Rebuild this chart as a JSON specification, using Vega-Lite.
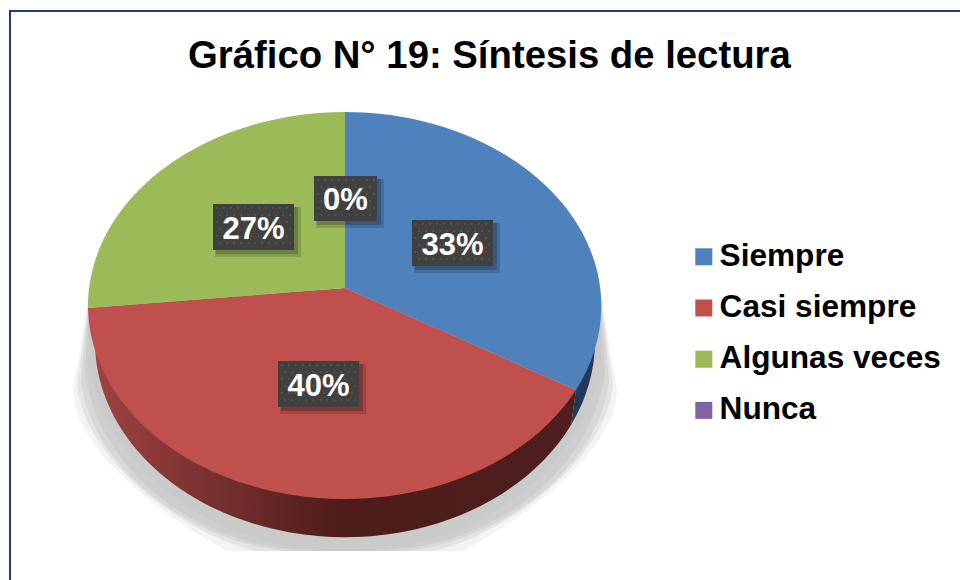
{
  "$schema": "https://vega.github.io/schema/vega-lite/v6.json",
  "width": 690,
  "height": 580,
  "autosize": {"type": "none"},
  "padding": {"left": 0, "top": 0, "right": 270, "bottom": 0},
  "background": "white",
  "view": {"stroke": null},
  "title": {
    "text": "Gráfico N° 19: Síntesis de lectura",
    "orient": "top",
    "anchor": "start",
    "frame": "group",
    "dx": 188,
    "offset": -106,
    "baseline": "alphabetic",
    "font": "Liberation Sans",
    "fontWeight": "bold",
    "fontSize": 38.3,
    "color": "#000000"
  },
  "data": {
    "values": [
      {"categoria": "Siempre", "valor": 0.33},
      {"categoria": "Casi siempre", "valor": 0.40},
      {"categoria": "Algunas veces", "valor": 0.27},
      {"categoria": "Nunca", "valor": 0.0}
    ]
  },
  "resolve": {"scale": {"shape": "independent"}},
  "layer": [
    {
      "data": {"values": [{"parte": "marco"}]},
      "mark": {"type": "point", "size": 4, "filled": false, "opacity": 1, "strokeWidth": 2, "stroke": "#1d3a80", "shape": "M-335,290L-335,-279L615,-279"},
      "encoding": {}
    },
    {
      "data": {"values": [{"parte": "sombra"}]},
      "mark": {"type": "point", "size": 4, "filled": true, "opacity": 0.2, "color": "#c4c4c4", "shape": "M-255,0L-272,100C-270,160 -185,225 -118,261L118,261C185,225 270,160 272,100L255,0Z"},
      "encoding": {}
    },
    {
      "data": {"values": [{"parte": "sombra"}]},
      "mark": {"type": "point", "size": 4, "filled": true, "opacity": 0.3, "color": "#c4c4c4", "shape": "M-255,0L-268,95C-262,165 -170,240 -90,261L90,261C170,240 262,165 268,95L255,0Z"},
      "encoding": {}
    },
    {
      "data": {"values": [{"parte": "sombra"}]},
      "mark": {"type": "point", "size": 4, "filled": true, "opacity": 0.4, "color": "#c4c4c4", "shape": "M-255,0L-264,90C-255,175 -160,250 -60,261L60,261C160,250 255,175 264,90L255,0Z"},
      "encoding": {}
    },
    {
      "data": {"values": [{"parte": "sombra"}]},
      "mark": {"type": "point", "size": 4, "filled": true, "opacity": 0.5, "color": "#c4c4c4", "shape": "M-255,0L-260,80C-248,180 -150,258 -30,261L30,261C150,258 248,180 260,80L255,0Z"},
      "encoding": {}
    },
    {
      "data": {"values": [{"parte": "sombra"}]},
      "mark": {"type": "point", "size": 4, "filled": true, "opacity": 0.6, "color": "#c8c8c8", "shape": "M-255,0L-256,70C-245,170 -140,261 0,261C140,261 245,170 256,70L255,0Z"},
      "encoding": {}
    },
    {
      "data": {"values": [{"parte": "lado azul"}]},
      "mark": {"type": "point", "size": 4, "filled": true, "opacity": 1, "color": "#1f3a5c", "shape": "M231,100L226,135A250,196 0 0 0 250,51L231,60Z"},
      "encoding": {}
    },
    {
      "data": {"values": [{"parte": "lado rojo"}]},
      "mark": {
        "type": "point", "size": 4, "filled": true, "opacity": 1,
        "color": {
          "gradient": "linear", "x1": 0, "y1": 0.5, "x2": 1, "y2": 0.5,
          "stops": [
            {"offset": 0, "color": "#a04442"},
            {"offset": 0.52, "color": "#4d1c1b"},
            {"offset": 1, "color": "#4e1f1e"}
          ]
        },
        "shape": "M231,100L226,135A250,196 0 0 1 -250,51L-257,18Z"
      },
      "encoding": {}
    },
    {
      "mark": {"type": "point", "size": 4, "filled": true, "opacity": 1},
      "encoding": {
        "fill": {
          "field": "categoria", "type": "nominal",
          "scale": {
            "domain": ["Nunca", "Siempre", "Casi siempre", "Algunas veces"],
            "range": ["#8064a2", "#4f81bd", "#c0504d", "#9bbb59"]
          },
          "legend": null
        },
        "shape": {
          "field": "categoria", "type": "nominal",
          "scale": {
            "domain": ["Siempre", "Casi siempre", "Algunas veces", "Nunca"],
            "range": [
              "M0,-2L0,-178A257,194 0 0 1 231,100Z",
              "M0,-2L231,100A257,194 0 0 1 -257,18Z",
              "M0,-2L-257,18A257,194 0 0 1 0,-178Z",
              "M0,-2L0,-178Z"
            ]
          },
          "legend": null
        }
      }
    },
    {
      "mark": {"type": "point", "size": 0, "filled": true, "opacity": 1},
      "encoding": {
        "color": {
          "field": "categoria", "type": "nominal",
          "scale": {
            "domain": ["Siempre", "Casi siempre", "Algunas veces", "Nunca"],
            "range": ["#4f81bd", "#c0504d", "#9bbb59", "#8064a2"]
          },
          "legend": {
            "title": null,
            "orient": "none",
            "legendX": 688,
            "legendY": 241,
            "symbolType": "square",
            "symbolSize": 289,
            "symbolOpacity": 1,
            "symbolStrokeWidth": 0,
            "labelFont": "Liberation Sans",
            "labelFontWeight": "bold",
            "labelFontSize": 31.6,
            "labelColor": "#000000",
            "labelOffset": 0,
            "labelLimit": 300,
            "rowPadding": 18.2
          }
        }
      }
    },
    {
      "mark": {"type": "point", "size": 4, "filled": true, "opacity": 0.14, "color": "#000000"},
      "encoding": {
        "shape": {
          "field": "categoria", "type": "nominal",
          "scale": {
            "domain": ["Siempre", "Casi siempre", "Algunas veces", "Nunca"],
            "range": [
              "M69,-67H155V-17H69Z",
              "M-65,74H21V124H-65Z",
              "M-130,-83H-44V-33H-130Z",
              "M-29,-111H39V-62H-29Z"
            ]
          },
          "legend": null
        }
      }
    },
    {
      "mark": {"type": "point", "size": 4, "filled": true, "opacity": 0.2, "color": "#000000"},
      "encoding": {
        "shape": {
          "field": "categoria", "type": "nominal",
          "scale": {
            "domain": ["Siempre", "Casi siempre", "Algunas veces", "Nunca"],
            "range": [
              "M70,-67H152V-20H70Z",
              "M-64,74H18V121H-64Z",
              "M-129,-83H-47V-36H-129Z",
              "M-28,-111H36V-65H-28Z"
            ]
          },
          "legend": null
        }
      }
    },
    {
      "mark": {"type": "point", "size": 4, "filled": true, "opacity": 1, "color": "#404040"},
      "encoding": {
        "shape": {
          "field": "categoria", "type": "nominal",
          "scale": {
            "domain": ["Siempre", "Casi siempre", "Algunas veces", "Nunca"],
            "range": [
              "M67,-70H148V-24H67Z",
              "M-67,71H14V117H-67Z",
              "M-132,-86H-51V-40H-132Z",
              "M-31,-114H32V-69H-31Z"
            ]
          },
          "legend": null
        }
      }
    },
    {
      "mark": {"type": "point", "size": 4, "filled": false, "opacity": 1, "stroke": "#5c5c5c", "strokeWidth": 1.6, "strokeDash": [1.6, 5.4]},
      "encoding": {
        "shape": {
          "field": "categoria", "type": "nominal",
          "scale": {
            "domain": ["Siempre", "Casi siempre", "Algunas veces", "Nunca"],
            "range": [
              "M70,-66H146M73.5,-59H146M70,-52H146M73.5,-45H146M70,-38H146M73.5,-31H146",
              "M-64,75H12M-60.5,82H12M-64,89H12M-60.5,96H12M-64,103H12M-60.5,110H12",
              "M-129,-82H-53M-125.5,-75H-53M-129,-68H-53M-125.5,-61H-53M-129,-54H-53M-125.5,-47H-53",
              "M-28,-110H30M-24.5,-103H30M-28,-96H30M-24.5,-89H30M-28,-82H30M-24.5,-75H30"
            ]
          },
          "legend": null
        }
      }
    },
    {
      "transform": [{"filter": "datum.categoria === 'Siempre'"}],
      "mark": {"type": "text", "dx": 107.5, "dy": -44, "font": "Liberation Sans", "fontWeight": "bold", "fontSize": 31, "color": "#ffffff", "align": "center", "baseline": "middle"},
      "encoding": {"text": {"field": "valor", "type": "quantitative", "format": ".0%"}}
    },
    {
      "transform": [{"filter": "datum.categoria === 'Casi siempre'"}],
      "mark": {"type": "text", "dx": -26.5, "dy": 97, "font": "Liberation Sans", "fontWeight": "bold", "fontSize": 31, "color": "#ffffff", "align": "center", "baseline": "middle"},
      "encoding": {"text": {"field": "valor", "type": "quantitative", "format": ".0%"}}
    },
    {
      "transform": [{"filter": "datum.categoria === 'Algunas veces'"}],
      "mark": {"type": "text", "dx": -91.5, "dy": -60.5, "font": "Liberation Sans", "fontWeight": "bold", "fontSize": 31, "color": "#ffffff", "align": "center", "baseline": "middle"},
      "encoding": {"text": {"field": "valor", "type": "quantitative", "format": ".0%"}}
    },
    {
      "transform": [{"filter": "datum.categoria === 'Nunca'"}],
      "mark": {"type": "text", "dx": 0.5, "dy": -89, "font": "Liberation Sans", "fontWeight": "bold", "fontSize": 31, "color": "#ffffff", "align": "center", "baseline": "middle"},
      "encoding": {"text": {"field": "valor", "type": "quantitative", "format": ".0%"}}
    }
  ]
}
